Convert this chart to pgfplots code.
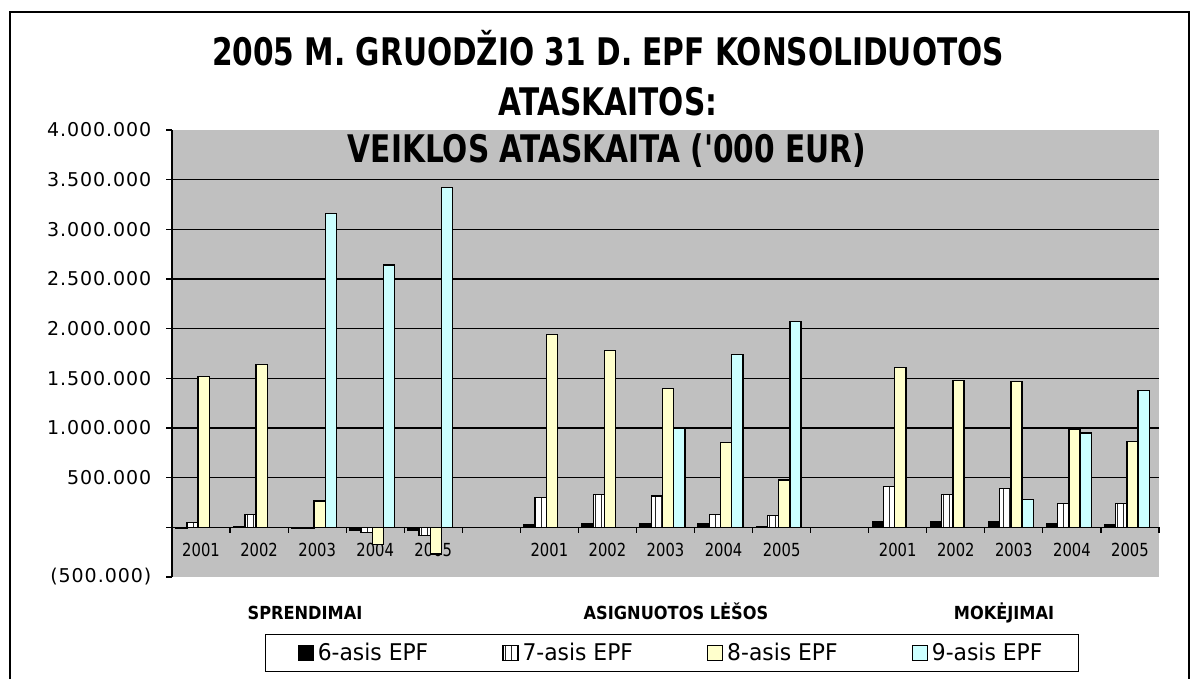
\documentclass[border=0pt]{standalone}
\usepackage{fontspec}
\setmainfont{DejaVu Sans}
\newfontfamily\titlefont[FakeStretch=0.78]{DejaVu Sans}
\newfontfamily\xfont[FakeStretch=0.82]{DejaVu Sans}
\newfontfamily\yfont[LetterSpace=5]{DejaVu Sans}
\newfontfamily\groupfont[FakeStretch=0.9]{DejaVu Sans}
\newfontfamily\legfont[FakeStretch=0.95]{DejaVu Sans}
\usepackage{pgfplots}
\pgfplotsset{compat=1.18}
\usetikzlibrary{patterns}
\definecolor{bggray}{RGB}{192,192,192}
\definecolor{yel}{RGB}{255,255,204}
\definecolor{cyn}{RGB}{204,255,255}
\pgfplotsset{mylegend/.style={legend image code/.code={\draw[##1,line width=0.6pt] (0pt,-3.75pt) rectangle (7.5pt,3.75pt);}}}
\begin{document}
\begin{tikzpicture}
\useasboundingbox (0,0) rectangle (596pt,339.5pt);
\draw[line width=0.8pt] (5pt,0pt) -- (5pt,333.5pt) -- (594.5pt,333.5pt) -- (594.5pt,0pt);
\begin{axis}[
  at={(86pt,51pt)}, anchor=south west, scale only axis,
  width=493.5pt, height=223.5pt,
  xmin=-0.5, xmax=16.5, ymin=-500000, ymax=4000000,
  axis x line*=middle, axis y line*=left,
  axis line style={black, line width=0.6pt},
  axis background/.style={fill=bggray},
  ybar=0pt, bar width=5.6pt,
  xtick={-0.5,0.5,...,16.5}, xticklabels={},
  extra x ticks={0,1,2,3,4,6,7,8,9,10,12,13,14,15,16},
  extra x tick labels={2001,2002,2003,2004,2005,2001,2002,2003,2004,2005,2001,2002,2003,2004,2005},
  extra x tick style={major tick length=0pt},
  xticklabel style={font=\xfont\fontsize{9}{10}\selectfont, yshift=-4.5pt},
  ytick={-500000,0,500000,1000000,1500000,2000000,2500000,3000000,3500000,4000000},
  yticklabels={{(500.000)},{},{500.000},{1.000.000},{1.500.000},{2.000.000},{2.500.000},{3.000.000},{3.500.000},{4.000.000}},
  extra y ticks={500000,1000000,1500000,2000000,2500000,3000000,3500000},
  extra y tick labels={},
  extra y tick style={grid=major, major tick length=0pt},
  grid style={black, line width=0.6pt},
  tick align=outside, major tick length=2.8pt,
  tick style={black, line width=0.6pt},
  yticklabel style={font=\yfont\fontsize{9.5}{11}\selectfont, xshift=-4pt},
  scaled y ticks=false,
  legend columns=4,
  legend style={at={(0.5066,-0.17)}, anchor=center, draw=black, line width=0.7pt,
    fill=white, font=\legfont\fontsize{11.5}{13}\selectfont,
    inner xsep=16pt, inner ysep=2pt,
    /tikz/every even column/.append style={column sep=35pt}},
]
\addplot[bar shift=-9.9pt, fill=black, draw=black, line width=0.7pt, mylegend] coordinates {
(0,-10000) (1,5000) (2,-8000) (3,-30000) (4,-30000)
(6,30000) (7,40000) (8,35000) (9,35000) (10,5000)
(12,57000) (13,57000) (14,57000) (15,37000) (16,30000)};
\addplot[bar shift=-4.3pt, fill=white, draw=black, line width=0.7pt, postaction={pattern=vertical lines, pattern color=black!85}, mylegend] coordinates {
(0,50000) (1,130000) (2,-5000) (3,-50000) (4,-80000)
(6,300000) (7,330000) (8,315000) (9,128000) (10,118000)
(12,413000) (13,329000) (14,390000) (15,239000) (16,239000)};
\addplot[bar shift=1.3pt, fill=yel, draw=black, line width=0.7pt, mylegend] coordinates {
(0,1520000) (1,1640000) (2,265000) (3,-170000) (4,-270000)
(6,1940000) (7,1780000) (8,1400000) (9,853000) (10,476000)
(12,1610000) (13,1480000) (14,1470000) (15,987000) (16,863000)};
\addplot[bar shift=6.9pt, fill=cyn, draw=black, line width=0.7pt, mylegend] coordinates {
(2,3160000) (3,2640000) (4,3420000)
(8,995000) (9,1740000) (10,2070000)
(14,282000) (15,950000) (16,1375000)};
\legend{6-asis EPF,7-asis EPF,8-asis EPF,9-asis EPF}
\end{axis}
\node[anchor=base, font=\titlefont\bfseries\fontsize{19}{22}\selectfont] at (304pt,306.5pt) {2005 M. GRUODŽIO 31 D. EPF KONSOLIDUOTOS};
\node[anchor=base, font=\titlefont\bfseries\fontsize{19}{22}\selectfont] at (304pt,281.5pt) {ATASKAITOS:};
\node[anchor=base, font=\titlefont\bfseries\fontsize{19}{22}\selectfont] at (303.5pt,258pt) {VEIKLOS ATASKAITA ('000 EUR)};
\node[anchor=base, font=\groupfont\bfseries\fontsize{9}{11}\selectfont] at (152.5pt,30pt) {SPRENDIMAI};
\node[anchor=base, font=\groupfont\bfseries\fontsize{9}{11}\selectfont] at (338pt,30pt) {ASIGNUOTOS LĖŠOS};
\node[anchor=base, font=\groupfont\bfseries\fontsize{9}{11}\selectfont] at (502pt,30pt) {MOKĖJIMAI};
\end{tikzpicture}
\end{document}
